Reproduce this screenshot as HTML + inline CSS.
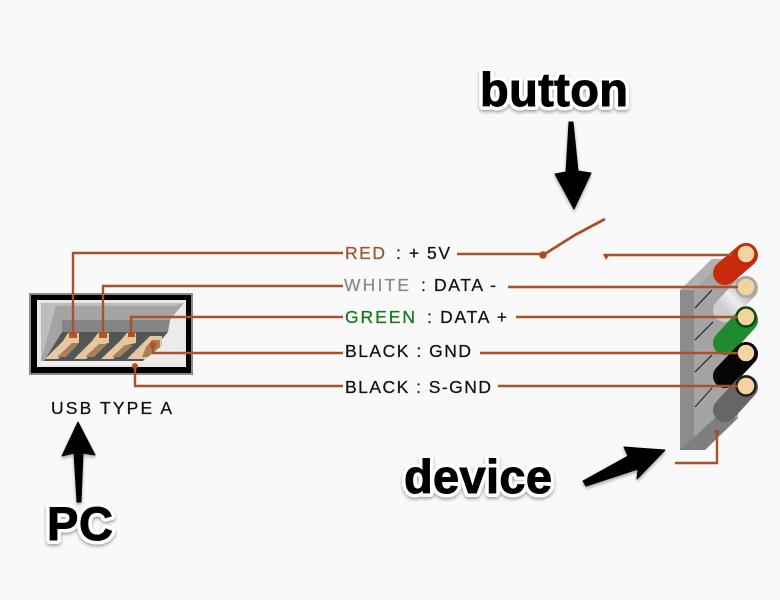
<!DOCTYPE html>
<html><head><meta charset="utf-8"><style>
html,body{margin:0;padding:0;background:#f9f9f9}
svg{display:block}
text{font-family:"Liberation Sans",sans-serif}
.l{font-size:17.5px;fill:#111;stroke:#111;stroke-width:.25px}
.b{font-weight:bold;font-size:47px;fill:#000;stroke:#000;stroke-width:1px}
.h{font-weight:bold;font-size:47px;fill:#fff;stroke:#fff;stroke-width:8px;stroke-linejoin:round}
.w{stroke:#a5532b;stroke-width:2.4;fill:none}
</style></head><body>
<svg width="780" height="600" viewBox="0 0 780 600" xmlns="http://www.w3.org/2000/svg">
<defs>
<linearGradient id="wh" x1="1" y1="0" x2="0" y2="1"><stop offset="0" stop-color="#aaa"/><stop offset=".55" stop-color="#eee"/><stop offset="1" stop-color="#ccc"/></linearGradient>
<filter id="s" x="-20%" y="-20%" width="140%" height="140%"><feDropShadow dx="0" dy="2" stdDeviation="1.5" flood-color="#000" flood-opacity=".35"/></filter>
</defs>
<rect width="780" height="600" fill="#f9f9f9"/>

<!-- USB connector -->
<rect x="29" y="293" width="164" height="82" fill="#8a8a8a"/>
<rect x="31" y="295" width="160" height="78" fill="#000"/>
<rect x="37" y="300" width="149" height="67" fill="#e8e8e8"/>
<rect x="41" y="303" width="142" height="58" fill="#a4a4a4"/>
<polygon points="41,303 183,303 176,306 56,306 41,360" fill="#bdbdbd"/>
<polygon points="62,320 170,320 168,332 62,332" fill="#858585"/>
<polygon points="183,304 183,362 142,362 168,332 170,320" fill="#ececec"/>
<polygon points="62,332 168,332 143,361 44,361" fill="#555"/>
<polygon points="41,361 140,361 134,365 41,365" fill="#f0f0f0"/>
<g fill="#e6c8a0">
<polygon points="45,359 63,341 68,333 79,333 79,343 70,345 58,359"/>
<polygon points="74,359 92,341 98,333 109,333 109,343 100,345 86,359"/>
<polygon points="101,359 120,341 127,333 136,333 136,343 127,345 113,359"/>
<polygon points="127,359 150,336 162,336 162,346 146,359"/>
</g>
<g fill="#a5805a">
<polygon points="57,357 72,343 79,343 66,357"/>
<polygon points="85,357 99,344 107,344 94,357"/>
<polygon points="112,357 125,345 133,345 120,357"/>
<polygon points="146,347 152,340 160,340 160,347 148,357 142,357"/>
</g>
<g fill="#c0501e">
<rect x="69" y="332" width="8" height="6"/><rect x="99" y="332" width="8" height="6"/><rect x="128" y="332" width="7" height="5"/><circle cx="153" cy="345" r="3.5"/><circle cx="135" cy="366" r="3"/>
</g>

<!-- wires left -->
<path class="w" d="M343 253H73V335M343 286H103V335M343 317H131V335M343 353H153V345M343 386H135V366"/>

<!-- device block -->
<polygon points="680,290 712,259 738,259 738,418 705,450 680,450" fill="#a4a4a4"/>
<polygon points="680,290 694,290 694,450 680,450" fill="#8c8c8c"/>
<polygon points="680,290 712,259 726,259 694,290" fill="#b0b0b0"/>
<polygon points="680,450 715,418 738,418 705,450" fill="#7e7e7e"/>
<g stroke="#333" stroke-width="1.3">
<line x1="695" y1="308" x2="712" y2="290"/><line x1="695" y1="340" x2="713" y2="322"/>
<line x1="695" y1="372" x2="712" y2="355"/><line x1="695" y1="407" x2="712" y2="388"/>
</g>

<!-- cylinders -->
<g stroke-linecap="round" stroke-width="24" fill="none">
<line x1="746" y1="255" x2="725" y2="273" stroke="#c82a0c"/>
<line x1="746" y1="288" x2="725" y2="310" stroke="url(#wh)"/>
<line x1="746" y1="320" x2="725" y2="343" stroke="#208a2e"/>
<line x1="746" y1="354" x2="725" y2="376" stroke="#050505"/>
<line x1="746" y1="387" x2="725" y2="410" stroke="#666"/>
</g>
<g fill="#f3d3a0" stroke-width="2.5">
<circle cx="746" cy="254" r="9.5" stroke="#c02a0c"/>
<circle cx="746" cy="287" r="9.5" stroke="#a8a8a8"/>
<circle cx="746" cy="317" r="9.5" stroke="#0a4a10"/>
<circle cx="746" cy="353" r="9.5" stroke="#000"/>
<circle cx="746" cy="386" r="9.5" stroke="#222"/>
</g>

<!-- wires right -->
<path class="w" d="M457 254H543M605 255H732M508 287H738M516 317H738M480 353H738M498 386H738"/>
<path d="M543 255L575 235M575 235L605 219" stroke="#a8502a" stroke-width="2.8" fill="none"/>
<circle cx="543" cy="255" r="3.8" fill="#b04a20"/>
<polygon points="603,254 610,254 606,260" fill="#b04a20"/>
<path class="w" d="M675 463H717V432"/>
<circle cx="717" cy="432" r="2.5" fill="#a0502c"/>

<!-- labels -->
<text class="l" x="345" y="259" textLength="40" style="fill:#a0522d;stroke:#a0522d">RED</text>
<text class="l" x="396" y="259" textLength="54">: + 5V</text>
<text class="l" x="344" y="291" textLength="65" style="fill:#8a8a8a;stroke:#8a8a8a">WHITE</text>
<text class="l" x="421" y="291" textLength="75">: DATA -</text>
<text class="l" x="345" y="323" textLength="70" style="fill:#107a18;stroke:#107a18">GREEN</text>
<text class="l" x="427" y="323" textLength="80">: DATA +</text>
<text class="l" x="345" y="357" textLength="126">BLACK : GND</text>
<text class="l" x="345" y="393" textLength="146">BLACK : S-GND</text>
<text class="l" x="51" y="414" textLength="121">USB TYPE A</text>

<!-- callouts -->
<g filter="url(#s)">
<text class="h" x="480" y="106" textLength="148">button</text>
<text class="h" x="404" y="493" textLength="148">device</text>
<text class="h" x="47" y="540" textLength="66">PC</text>
</g>
<text class="b" x="480" y="106" textLength="148">button</text>
<text class="b" x="404" y="493" textLength="148">device</text>
<text class="b" x="47" y="540" textLength="66">PC</text>

<!-- arrows -->
<g fill="#000" filter="url(#s)" stroke="#000" stroke-width="1" stroke-linejoin="round">
<polygon points="569,122 573,122 578,171 591,173 574,209 555,174 566,172"/>
<polygon points="78,422 95,455 83,453 81,502 77,502 74,453 62,456"/>
<polygon points="665,450 637,479 638,469 586,486 583,481 628,456 624,447"/>
</g>
</svg>
</body></html>
